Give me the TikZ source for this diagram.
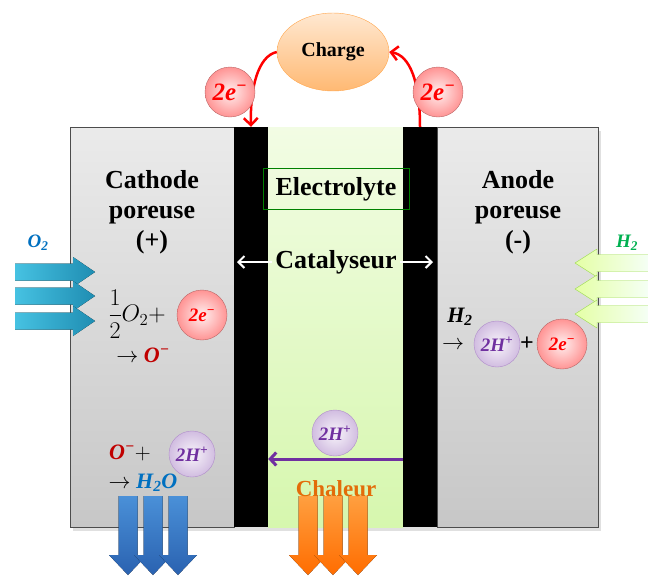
\RequirePackage{fix-cm}
\documentclass[tikz,border=0pt]{standalone}
\usepackage{amsmath}
\usepackage{fontspec}
\setmainfont{Liberation Serif}
\usetikzlibrary{arrows.meta,shapes.geometric}
\definecolor{oxblue}{HTML}{0070C0}
\definecolor{hgreen}{HTML}{00B050}
\definecolor{hpurple}{HTML}{7030A0}
\definecolor{odark}{HTML}{C00000}
\definecolor{heat}{HTML}{E36C09}
\definecolor{inletA}{HTML}{46C2E2}
\definecolor{inletB}{HTML}{1F8DB2}
\definecolor{elecTop}{HTML}{F2FCE4}
\definecolor{elecBot}{HTML}{D6F7AE}
\definecolor{waterA}{HTML}{4A90D8}
\definecolor{waterB}{HTML}{2A62B0}
\newcommand{\chem}[1]{{\bfseries\itshape #1}}
\tikzset{
  electrode/.style={draw=black!70, top color=black!8, bottom color=black!22},
  catbar/.style={fill=black, minimum width=34, minimum height=400, inner sep=0pt},
  title/.style={font=\fontsize{26}{30}\selectfont\bfseries, align=center},
  ecirc/.style={circle, draw=red!55!black!60, inner color=red!6, outer color=red!42, minimum size=50, inner sep=0pt, text=red},
  hcirc/.style={circle, draw=hpurple!55, inner color=hpurple!5, outer color=hpurple!32, minimum size=46, inner sep=0pt, text=hpurple},
  eflow/.style={red, line width=2.5pt, -{Straight Barb[length=7pt,width=14pt]}},
  react/.style={font=\fontsize{22}{26}\selectfont, inner sep=1pt}
}
\begin{document}
\begin{tikzpicture}[x=1pt, y=-1pt]
\useasboundingbox (0,0) rectangle (648,576);
% soft shadow under the cell
\fill[black, opacity=0.12] (73,131) rectangle (601,531);
% electrodes and electrolyte
\draw[electrode] (70,127) rectangle (234,527);
\draw[electrode] (437,127) rectangle (598,527);
\fill[top color=elecTop, bottom color=elecBot] (268,127) rectangle (403,527);
\node[catbar] (catL) at (251,327) {};
\node[catbar] (catR) at (420,327) {};
% gas inlets
\foreach \y in {272,296,321}
  \fill[left color=inletA, right color=inletB] (15,{\y-8.5}) -- (73,{\y-8.5}) -- (73,{\y-15}) -- (95,\y) -- (73,{\y+15}) -- (73,{\y+8.5}) -- (15,{\y+8.5}) -- cycle;
\foreach \y in {263,289,314}
  \draw[draw=green!45!yellow!80!black!70, left color=green!30!yellow!35, right color=green!4!white] (648,{\y-8.5}) -- (597,{\y-8.5}) -- (597,{\y-14}) -- (575,\y) -- (597,{\y+14}) -- (597,{\y+8.5}) -- (648,{\y+8.5});
\node[text=oxblue, font=\fontsize{19}{22}\selectfont] (o2in) at (38,243) {\chem{O\textsubscript{2}}};
\node[text=hgreen, font=\fontsize{19}{22}\selectfont] (h2in) at (627,243) {\chem{H\textsubscript{2}}};
% outlets
\foreach \x in {128,153,178}
  \fill[top color=waterA, bottom color=waterB] ({\x-9.5},496) -- ({\x+9.5},496) -- ({\x+9.5},555) -- ({\x+19},555) -- (\x,575) -- ({\x-19},555) -- ({\x-9.5},555) -- cycle;
\foreach \x in {308,333,358}
  \fill[top color=orange!75, bottom color=orange!85!red] ({\x-9.5},496) -- ({\x+9.5},496) -- ({\x+9.5},555) -- ({\x+19},555) -- (\x,575) -- ({\x-19},555) -- ({\x-9.5},555) -- cycle;
\node[text=heat, font=\fontsize{23}{26}\selectfont\bfseries] (heatlbl) at (336,489) {Chaleur};
% titles
\node[title] (cathode) at (152,212) {Cathode\\poreuse\\(+)};
\node[title] (anode) at (518,212) {Anode\\poreuse\\(-)};
\node[title, draw=green!50!black, minimum width=146, minimum height=41, inner sep=0pt] (elec) at (336,189) {Electrolyte};
\node[title, inner sep=3pt] (cata) at (336,262) {Catalyseur};
\coordinate (cataL) at (237,262);
\coordinate (cataR) at (433,262);
\draw[white, line width=2pt, -{Straight Barb[length=6pt,width=12pt]}] (cata.west) -- (cataL);
\draw[white, line width=2pt, -{Straight Barb[length=6pt,width=12pt]}] (cata.east) -- (cataR);
% external circuit
\node[ellipse, draw=orange!70, top color=orange!18, bottom color=orange!55, minimum width=112, minimum height=78, font=\fontsize{20}{22}\selectfont\bfseries] (charge) at (333,52) {Charge};
\draw[eflow] (charge.west) .. controls (258,56) and (250,88) .. (catL.north);
\draw[eflow] (catR.north) .. controls (420,82) and (410,55) .. (charge.east);
\node[ecirc, font=\fontsize{25}{26}\selectfont] (eL) at (230,92) {\chem{2e\textsuperscript{−}}};
\node[ecirc, font=\fontsize{25}{26}\selectfont] (eR) at (438,92) {\chem{2e\textsuperscript{−}}};
% cathode reactions
\node[react, font=\fontsize{24}{28}\selectfont] (half) at (137,314) {$\dfrac{1}{2}O_2+$};
\node[ecirc, font=\fontsize{19}{20}\selectfont] (eC) at (202,315) {\chem{2e\textsuperscript{−}}};
\node[react] (ominus) at (143,355) {$\rightarrow$ \textcolor{odark}{\chem{O\textsuperscript{−}}}};
\node[react] (oplus) at (130,453) {\textcolor{odark}{\chem{O\textsuperscript{−}}}$+$};
\node[hcirc, font=\fontsize{19}{20}\selectfont] (hC) at (192,454) {\chem{2H\textsuperscript{+}}};
\node[react] (water) at (143,483) {$\rightarrow$ \textcolor{oxblue}{\chem{H\textsubscript{2}O}}};
% anode reactions
\node[react] (h2) at (460,317) {\chem{H\textsubscript{2}}};
\node[react] (ato) at (453,345) {$\rightarrow$};
\node[hcirc, font=\fontsize{19}{20}\selectfont] (hA) at (497,344) {\chem{2H\textsuperscript{+}}};
\node[react, font=\fontsize{24}{26}\selectfont\bfseries] (aplus) at (527,344) {+};
\node[ecirc, font=\fontsize{19}{20}\selectfont] (eA) at (562,344) {\chem{2e\textsuperscript{−}}};
% proton transport
\node[hcirc, font=\fontsize{19}{20}\selectfont] (hE) at (335,433) {\chem{2H\textsuperscript{+}}};
\draw[hpurple, line width=3pt, -{Straight Barb[length=6pt,width=13pt]}] (catR.west |- 0,459) -- (catL.east |- 0,459);
\end{tikzpicture}
\end{document}
